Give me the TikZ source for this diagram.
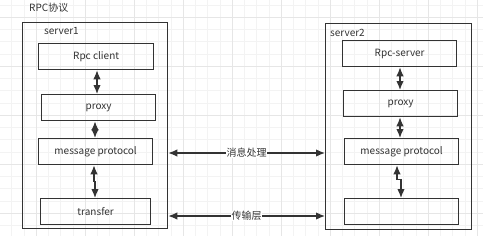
\documentclass[tikz,border=0pt]{standalone}
\usepackage{fontspec}
\setmainfont{Noto Sans CJK SC}
\usetikzlibrary{arrows.meta}
\definecolor{ln}{HTML}{333333}
\definecolor{gmin}{HTML}{F3F3F3}
\definecolor{gmaj}{HTML}{E6E6E6}
\begin{document}
\begin{tikzpicture}[x=1pt,y=-1pt,
  box/.style={draw=ln,line width=1.3pt,inner sep=0pt,anchor=north west,font=\fontsize{10}{12}\selectfont,text=ln},
  outer/.style={draw=ln,line width=1.3pt,anchor=north west,inner sep=0pt},
  lbl/.style={font=\fontsize{10}{12}\selectfont,text=ln,inner sep=1pt},
  dar/.style={draw=ln,line width=1.3pt,{Latex[length=9pt,width=7.5pt]}-{Latex[length=9pt,width=7.5pt]}},
  hlbl/.style={font=\fontsize{10}{12}\selectfont,text=ln,fill=white,inner sep=0.5pt}]
\fill[white] (0,0) rectangle (483,236);
\useasboundingbox (0,0) rectangle (483,236);
% grid
\foreach \i in {0,...,40} {
  \pgfmathsetmacro\gx{-13+12.25*\i}
  \draw[gmin,line width=0.5pt] (\gx,0) -- (\gx,236);
}
\foreach \i in {0,...,20} {
  \pgfmathsetmacro\gy{4.75+12.25*\i}
  \draw[gmin,line width=0.5pt] (0,\gy) -- (483,\gy);
}
\foreach \i in {0,...,10} {
  \pgfmathsetmacro\gx{-13+49*\i}
  \draw[gmaj,line width=0.6pt] (\gx,0) -- (\gx,236);
}
\foreach \i in {0,...,5} {
  \pgfmathsetmacro\gy{17+49*\i}
  \draw[gmaj,line width=0.6pt] (0,\gy) -- (483,\gy);
}
% title
\node[lbl,anchor=west] (title) at (28,8) {RPC协议};
% server1
\node[outer,minimum width=145pt,minimum height=206pt] (s1) at (22,22) {};
\node[lbl,anchor=west] (s1l) at (43,31) {server1};
\node[box,minimum width=115pt,minimum height=26pt] (rc) at (38,43) {Rpc client};
\node[box,minimum width=114pt,minimum height=26pt] (p1) at (41,94) {proxy};
\node[box,minimum width=114pt,minimum height=26pt] (m1) at (38,138) {message protocol};
\node[box,minimum width=110pt,minimum height=26pt] (t1) at (40,198) {transfer};
\draw[dar] (rc.south -| 97,0) -- (p1.north -| 97,0);
\draw[dar] (p1.south -| 95,0) -- (m1.north -| 95,0);
\draw[dar] (m1.south -| 94,0) -- ++(0,16) -- ++(1,0) -- (t1.north -| 95,0);
% server2
\node[outer,minimum width=146pt,minimum height=206pt] (s2) at (325,23) {};
\node[lbl,anchor=west] (s2l) at (329,33) {server2};
\node[box,minimum width=114pt,minimum height=26pt] (rs) at (342,40) {Rpc-server};
\node[box,minimum width=114pt,minimum height=26pt] (p2) at (343,90) {proxy};
\node[box,minimum width=114pt,minimum height=26pt] (m2) at (344,138) {message protocol};
\node[box,minimum width=114pt,minimum height=26pt] (t2) at (344,198) {};
\draw[dar] (rs.south -| 400,0) -- (p2.north -| 400,0);
\draw[dar] (p2.south -| 400,0) -- (m2.north -| 400,0);
\draw[dar] (m2.south -| 397,0) -- ++(0,14) -- ++(4,0) -- (t2.north -| 401,0);
% horizontal
\draw[dar] (s1.east |- 0,153) -- node[hlbl] {消息处理} (s2.west |- 0,153);
\draw[dar] (s1.east |- 0,216) -- node[hlbl] {传输层} (s2.west |- 0,216);
\end{tikzpicture}
\end{document}
